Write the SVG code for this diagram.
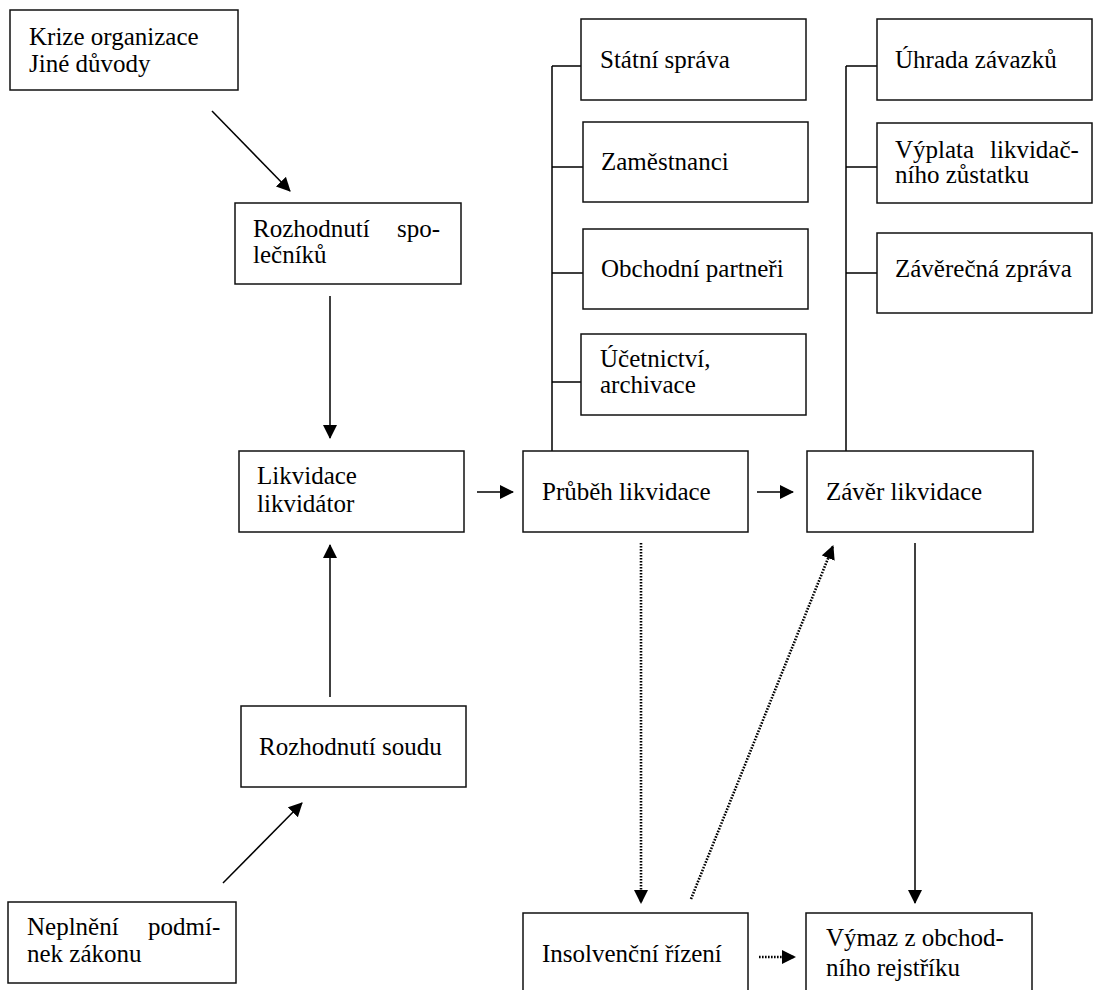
<svg xmlns="http://www.w3.org/2000/svg" width="1097" height="990" viewBox="0 0 1097 990">
<defs>
<marker id="ah" markerUnits="userSpaceOnUse" markerWidth="15" markerHeight="15" refX="13" refY="7" orient="auto">
<path d="M0,0 L14,7 L0,14 z" fill="#000"/>
</marker>
<style>
.box{fill:#fff;stroke:#111;stroke-width:1.5}
.t{font-family:"Liberation Serif","Times New Roman",serif;font-size:25px;fill:#000}
.c{fill:none;stroke:#000;stroke-width:1.5}
.a{marker-end:url(#ah)}
.d{stroke-dasharray:1.6 1.4;stroke-width:2.6}
</style>
</defs>
<rect width="1097" height="990" fill="#fff"/>
<g id="connectors">
<line class="c a" x1="212" y1="111" x2="290" y2="191"/>
<line class="c a" x1="330" y1="296" x2="330" y2="438"/>
<line class="c a" x1="330" y1="697" x2="330" y2="545"/>
<line class="c a" x1="223" y1="883" x2="302" y2="803"/>
<line class="c a" x1="477" y1="492" x2="513" y2="492"/>
<line class="c a" x1="757" y1="492" x2="793" y2="492"/>
<path class="c" d="M552,451 V66 M552,66 H581 M552,167 H583 M552,273 H583 M552,382 H581"/>
<path class="c" d="M846,451 V66 M846,66 H877 M846,167 H877 M846,273 H877"/>
<line class="c a d" x1="641" y1="543" x2="641" y2="903"/>
<line class="c a d" x1="691" y1="899" x2="833" y2="546"/>
<line class="c a d" x1="759" y1="957" x2="795" y2="957"/>
<line class="c a" x1="915" y1="543" x2="915" y2="903"/>
</g>
<g id="krize"><rect class="box" x="10" y="10" width="228" height="80"/>
<text class="t" x="29" y="45">Krize organizace</text><text class="t" x="29" y="72">Jiné důvody</text></g>
<g id="rozhodnuti-spolecniku"><rect class="box" x="235" y="203" width="226" height="81"/>
<text class="t" y="237"><tspan x="253">Rozhodnutí</tspan><tspan x="397">spo-</tspan></text><text class="t" x="253" y="263">lečníků</text></g>
<g id="likvidace"><rect class="box" x="239" y="451" width="225" height="81"/>
<text class="t" x="257" y="484">Likvidace</text><text class="t" x="257" y="512">likvidátor</text></g>
<g id="rozhodnuti-soudu"><rect class="box" x="241" y="706" width="225" height="81"/>
<text class="t" x="259" y="755">Rozhodnutí soudu</text></g>
<g id="neplneni"><rect class="box" x="8" y="902" width="228" height="81"/>
<text class="t" y="935"><tspan x="27">Neplnění</tspan><tspan x="148">podmí-</tspan></text><text class="t" x="27" y="962">nek zákonu</text></g>
<g id="prubeh"><rect class="box" x="523" y="451" width="225" height="81"/>
<text class="t" x="542" y="500">Průběh likvidace</text></g>
<g id="zaver"><rect class="box" x="807" y="451" width="226" height="81"/>
<text class="t" x="826" y="500">Závěr likvidace</text></g>
<g id="statni-sprava"><rect class="box" x="581" y="19" width="225" height="81"/>
<text class="t" x="600" y="68">Státní správa</text></g>
<g id="zamestnanci"><rect class="box" x="583" y="122" width="225" height="80"/>
<text class="t" x="601" y="170">Zaměstnanci</text></g>
<g id="obchodni-partneri"><rect class="box" x="583" y="229" width="225" height="80"/>
<text class="t" x="601" y="277">Obchodní partneři</text></g>
<g id="ucetnictvi"><rect class="box" x="581" y="334" width="225" height="81"/>
<text class="t" x="600" y="367">Účetnictví,</text><text class="t" x="600" y="393">archivace</text></g>
<g id="uhrada"><rect class="box" x="877" y="19" width="215" height="81"/>
<text class="t" x="895" y="68">Úhrada závazků</text></g>
<g id="vyplata"><rect class="box" x="877" y="123" width="215" height="80"/>
<text class="t" y="158"><tspan x="895">Výplata</tspan><tspan x="990">likvidač-</tspan></text><text class="t" x="895" y="183">ního zůstatku</text></g>
<g id="zaverecna-zprava"><rect class="box" x="877" y="233" width="215" height="80"/>
<text class="t" x="895" y="277">Závěrečná zpráva</text></g>
<g id="insolvencni"><rect class="box" x="523" y="913" width="225" height="84"/>
<text class="t" x="542" y="962">Insolvenční řízení</text></g>
<g id="vymaz"><rect class="box" x="806" y="913" width="226" height="84"/>
<text class="t" x="826" y="946">Výmaz z obchod-</text><text class="t" x="826" y="976">ního rejstříku</text></g>
</svg>
